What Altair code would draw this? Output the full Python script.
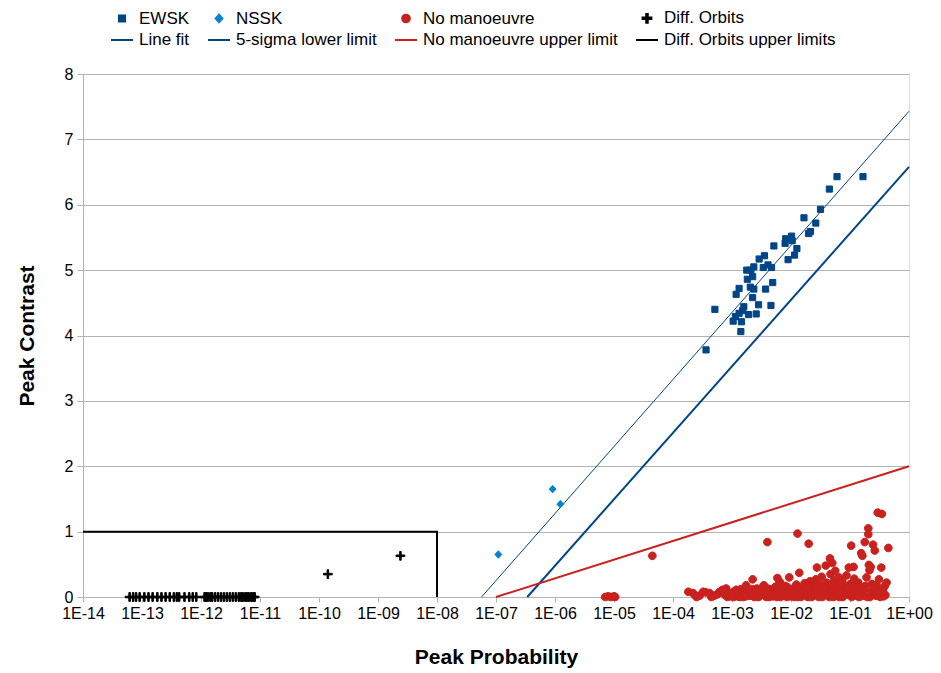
import altair as alt
import pandas as pd

# ---------------- data ----------------
series_names = ["EWSK", "NSSK", "No manoeuvre", "Diff. Orbits",
                "Line fit", "5-sigma lower limit", "No manoeuvre upper limit",
                "Diff. Orbits upper limits"]
series_colors = ["#004586", "#0084d1", "#c9211e", "#000000",
                 "#004586", "#004586", "#c9211e", "#000000"]

x_tick_values = [1e-14, 1e-13, 1e-12, 1e-11, 1e-10, 1e-09, 1e-08, 1e-07,
                 1e-06, 1e-05, 1e-04, 1e-03, 1e-02, 1e-01, 1.0]
y_tick_values = [0, 1, 2, 3, 4, 5, 6, 7, 8]

# log10(peak probability), peak contrast
ewsk_log_p = [-1.22, -0.78, -1.35, -1.50, -1.78, -1.58, -1.67, -1.70, -2.09, -1.99,
              -1.98, -2.10, -2.29, -1.90, -1.94, -2.05, -2.45, -2.54, -2.39, -2.47,
              -2.33, -2.63, -2.75, -2.68, -2.65, -2.74, -2.31, -2.88, -2.69, -2.63,
              -2.43, -2.93, -2.65, -3.29, -2.55, -2.34, -2.80, -2.82, -2.88, -2.94,
              -2.72, -2.59, -2.98, -2.84, -2.85, -3.44]
ewsk_contrast = [6.43, 6.43, 6.24, 5.93, 5.80, 5.72, 5.59, 5.56, 5.48, 5.52,
                 5.45, 5.41, 5.37, 5.33, 5.23, 5.16, 5.22, 5.17, 5.08, 5.04,
                 5.04, 5.05, 5.00, 5.00, 4.90, 4.86, 4.81, 4.72, 4.74, 4.71,
                 4.71, 4.63, 4.58, 4.40, 4.47, 4.46, 4.44, 4.38, 4.34, 4.29,
                 4.32, 4.33, 4.22, 4.21, 4.06, 3.78]

nssk_log_p = [-6.04, -5.91, -6.96]
nssk_contrast = [1.65, 1.42, 0.65]

diff_log_p = [-13.21, -13.15, -13.10, -13.04, -12.96, -12.89, -12.82, -12.74, -12.67,
              -12.60, -12.53, -12.46, -12.41, -12.37, -12.28, -12.20, -12.14, -12.08,
              -11.94, -11.91, -11.88, -11.84, -11.81, -11.76, -11.71, -11.66, -11.61,
              -11.56, -11.51, -11.46, -11.41, -11.36, -11.32, -11.29, -11.25, -11.22,
              -11.19, -11.15, -11.12, -11.09, -9.85, -8.62]
diff_contrast = [0.0] * 40 + [0.35, 0.63]

noman_points = [
    (-5.15, 0.0), (-5.10, 0.01), (-5.05, 0.0), (-5.00, 0.01), (-4.98, 0.0),
    (-4.35, 0.63),
    (-3.74, 0.08), (-3.66, 0.06), (-3.63, 0.03), (-3.55, 0.02), (-3.49, 0.08),
    (-3.44, 0.07), (-3.38, 0.06), (-3.30, 0.02), (-3.21, 0.08), (-3.16, 0.11),
    (-3.10, 0.13), (-3.12, 0.03), (-3.05, 0.05), (-3.02, 0.01),
    (-2.98, 0.04), (-2.95, 0.09), (-2.92, 0.02), (-2.88, 0.06), (-2.85, 0.12),
    (-2.83, 0.03), (-2.80, 0.07), (-2.77, 0.01), (-2.76, 0.18), (-2.73, 0.05),
    (-2.70, 0.10), (-2.68, 0.02), (-2.65, 0.27), (-2.64, 0.07), (-2.61, 0.04),
    (-2.58, 0.13), (-2.56, 0.01), (-2.53, 0.08), (-2.50, 0.05), (-2.48, 0.15),
    (-2.46, 0.18), (-2.44, 0.02), (-2.41, 0.09), (-2.39, 0.04), (-2.36, 0.12),
    (-2.33, 0.06), (-2.31, 0.01), (-2.28, 0.10), (-2.26, 0.16), (-2.23, 0.29),
    (-2.22, 0.03), (-2.19, 0.23), (-2.17, 0.07), (-2.14, 0.12), (-2.12, 0.02),
    (-2.09, 0.05), (-2.06, 0.15), (-2.04, 0.09), (-2.03, 0.30), (-2.01, 0.01),
    (-1.98, 0.06), (-1.96, 0.13), (-1.93, 0.03), (-1.91, 0.19), (-1.88, 0.08),
    (-1.86, 0.37), (-1.85, 0.02), (-1.82, 0.11), (-1.80, 0.05), (-1.77, 0.21),
    (-1.75, 0.14), (-1.73, 0.01), (-1.70, 0.08), (-1.68, 0.24), (-1.66, 0.04),
    (-1.63, 0.17), (-1.61, 0.10), (-1.58, 0.27), (-1.56, 0.45), (-1.55, 0.06),
    (-1.52, 0.20), (-1.50, 0.02), (-1.48, 0.31), (-1.46, 0.12), (-1.44, 0.07),
    (-1.41, 0.48), (-1.40, 0.22), (-1.38, 0.15), (-1.36, 0.03), (-1.34, 0.59),
    (-1.33, 0.35), (-1.30, 0.52), (-1.29, 0.09), (-1.27, 0.26), (-1.25, 0.40),
    (-1.23, 0.05), (-1.21, 0.18), (-1.19, 0.30), (-1.17, 0.12), (-1.15, 0.01),
    (-1.13, 0.24), (-1.11, 0.07), (-1.08, 0.16), (-1.06, 0.33), (-1.04, 0.10),
    (-1.02, 0.45), (-1.01, 0.03),
    (-0.99, 0.20), (-0.96, 0.08), (-0.94, 0.46), (-0.93, 0.28), (-0.90, 0.14),
    (-0.88, 0.02), (-0.86, 0.22), (-0.83, 0.11), (-0.81, 0.67), (-0.79, 0.63),
    (-0.78, 0.05), (-0.75, 0.84), (-0.74, 0.17), (-0.72, 0.30), (-0.69, 1.05),
    (-0.69, 0.96), (-0.68, 0.49), (-0.67, 0.41), (-0.65, 0.46), (-0.63, 0.20),
    (-0.61, 0.80), (-0.60, 0.09), (-0.58, 0.71), (-0.56, 0.02), (-0.55, 0.18),
    (-0.51, 0.27), (-0.53, 1.29), (-0.46, 1.27), (-0.47, 0.45), (-0.44, 0.12),
    (-0.41, 0.17), (-0.40, 0.03), (-0.35, 0.75), (-0.38, 0.22), (-0.82, 0.01),
    (-2.40, 0.84), (-1.89, 0.97), (-1.70, 0.815), (-0.98, 0.785),
    (-2.97, 0.0), (-2.90, 0.01), (-2.81, 0.0), (-2.71, 0.02), (-2.62, 0.0),
    (-2.52, 0.03), (-2.42, 0.0), (-2.34, 0.02), (-2.24, 0.0), (-2.15, 0.04),
    (-2.07, 0.0), (-1.97, 0.02), (-1.89, 0.0), (-1.79, 0.03), (-1.71, 0.0),
    (-1.62, 0.02), (-1.53, 0.0), (-1.43, 0.04), (-1.35, 0.0), (-1.26, 0.02),
    (-1.18, 0.0), (-1.09, 0.03), (-0.97, 0.0), (-0.91, 0.04), (-0.85, 0.0),
    (-0.76, 0.02), (-0.66, 0.0), (-0.59, 0.04), (-0.49, 0.0), (-0.43, 0.01),
    (-3.60, 0.0), (-3.35, 0.0), (-3.25, 0.04), (-3.08, 0.0), (-2.99, 0.07),
    (-2.93, 0.11), (-2.87, 0.0), (-2.79, 0.04), (-2.74, 0.09), (-2.69, 0.06),
    (-2.66, 0.12), (-2.59, 0.08), (-2.55, 0.0), (-2.49, 0.10), (-2.45, 0.06),
    (-2.40, 0.13), (-2.37, 0.0), (-2.32, 0.08), (-2.27, 0.05), (-2.21, 0.11),
    (-2.18, 0.0), (-2.13, 0.08), (-2.10, 0.17), (-2.05, 0.03), (-2.00, 0.10),
    (-1.95, 0.0), (-1.92, 0.07), (-1.87, 0.14), (-1.83, 0.0), (-1.78, 0.09),
    (-1.74, 0.05), (-1.69, 0.13), (-1.65, 0.0), (-1.60, 0.06), (-1.57, 0.11),
    (-1.51, 0.08), (-1.47, 0.0), (-1.42, 0.14), (-1.39, 0.05), (-1.32, 0.19),
    (-1.28, 0.0), (-1.24, 0.12), (-1.20, 0.07), (-1.16, 0.21), (-1.12, 0.0),
    (-1.07, 0.06), (-1.03, 0.14), (-0.95, 0.12), (-0.89, 0.07), (-0.84, 0.16),
    (-0.77, 0.10), (-0.71, 0.0), (-0.64, 0.09), (-0.57, 0.13), (-0.52, 0.06),
    (-0.45, 0.08),
]

line_fit_log_p = [-7.245, 0.0]
line_fit_contrast = [0.0, 7.43]
sigma5_log_p = [-6.47, 0.0]
sigma5_contrast = [0.0, 6.58]
noman_upper_log_p = [-7.0, 0.0]
noman_upper_contrast = [0.0, 2.0]
diff_upper_log_p = [-14.0, -8.0, -8.0]
diff_upper_contrast = [1.0, 1.0, 0.0]

# ---------------- tables ----------------
rows = []
for lp, c in zip(ewsk_log_p, ewsk_contrast):
    rows.append({"p": 10 ** lp, "c": c, "series": "EWSK"})
for lp, c in zip(nssk_log_p, nssk_contrast):
    rows.append({"p": 10 ** lp, "c": c, "series": "NSSK"})
for lp, c in noman_points:
    rows.append({"p": 10 ** lp, "c": c, "series": "No manoeuvre"})
for lp, c in zip(diff_log_p, diff_contrast):
    rows.append({"p": 10 ** lp, "c": c, "series": "Diff. Orbits"})
points_df = pd.DataFrame(rows)


def line_df(lps, cs):
    return pd.DataFrame({"p": [10 ** v for v in lps], "c": cs, "o": list(range(len(cs)))})


# ---------------- styling ----------------
FONT = "Liberation Sans"
GRID = "#b3b3b3"

label_expr = ("'1E' + (round(log(datum.value)/LN10) < 0 ? '-' : '+') + "
              "(abs(round(log(datum.value)/LN10)) < 10 ? '0' : '') + "
              "abs(round(log(datum.value)/LN10))")

x_enc = alt.X("p:Q",
              scale=alt.Scale(type="log", domain=[1e-14, 1.0], nice=False),
              axis=alt.Axis(title="Peak Probability", values=x_tick_values,
                            labelExpr=label_expr, labelOverlap=False, labelFlush=False,
                            grid=False, tickSize=5, tickColor=GRID, domainColor=GRID,
                            labelFontSize=16, labelFont=FONT, labelColor="#000000",
                            labelPadding=3,
                            titleFontSize=21, titleFont=FONT, titleFontWeight="bold",
                            titleColor="#000000", titlePadding=25))
y_enc = alt.Y("c:Q",
              scale=alt.Scale(domain=[0, 8], nice=False, zero=True),
              axis=alt.Axis(title="Peak Contrast", values=y_tick_values,
                            grid=True, gridColor=GRID, tickSize=6, tickColor=GRID,
                            domainColor=GRID, labelFontSize=16, labelFont=FONT,
                            labelColor="#000000", labelPadding=4,
                            titleFontSize=21, titleFont=FONT, titleFontWeight="bold",
                            titleColor="#000000", titlePadding=27))

# symbol paths (coordinates in [-1, 1], scaled with size 484 -> 22 px box)
sq = "M-0.28,-0.28L0.28,-0.28L0.28,0.28L-0.28,0.28Z"
dia = "M0,-0.34L0.31,0L0,0.34L-0.31,0Z"
circ = "M-0.35,0A0.35,0.35 0 1,0 0.35,0A0.35,0.35 0 1,0 -0.35,0Z"
plus = ("M-0.4,-0.07L0.4,-0.07L0.4,0.07L-0.4,0.07Z "
        "M-0.07,-0.4L0.07,-0.4L0.07,0.4L-0.07,0.4Z")
strk = "M-1,0L1,0"
series_shapes = [sq, dia, circ, plus, strk, strk, strk, strk]

legend = alt.Legend(orient="none", legendX=27, legendY=-68, direction="horizontal",
                    columns=4, title=None, labelFont=FONT, labelFontSize=17,
                    labelColor="#000000", labelLimit=320, symbolSize=484,
                    symbolStrokeWidth=2, columnPadding=14, rowPadding=1,
                    labelOffset=5, padding=0)

points = alt.Chart(points_df).mark_point(filled=True, size=484, strokeWidth=1,
                                         opacity=1).encode(
    x=x_enc, y=y_enc,
    fill=alt.Fill("series:N", scale=alt.Scale(domain=series_names, range=series_colors),
                  legend=legend),
    stroke=alt.Stroke("series:N", scale=alt.Scale(domain=series_names, range=series_colors),
                      legend=legend),
    shape=alt.Shape("series:N", scale=alt.Scale(domain=series_names, range=series_shapes),
                    legend=legend),
)


def line_layer(lps, cs, color, width):
    return alt.Chart(line_df(lps, cs)).mark_line(color=color, strokeWidth=width).encode(
        x=x_enc, y=y_enc, order=alt.Order("o:Q"))


lines = [
    line_layer(line_fit_log_p, line_fit_contrast, "#004586", 1),
    line_layer(sigma5_log_p, sigma5_contrast, "#004586", 2),
    line_layer(noman_upper_log_p, noman_upper_contrast, "#c9211e", 2),
    line_layer(diff_upper_log_p, diff_upper_contrast, "#000000", 2),
]

chart = alt.layer(*lines, points).properties(
    width=826, height=523,
    autosize=alt.AutoSizeParams(type="none"),
    padding={"left": 75, "top": 66, "right": 24, "bottom": 76},
).configure_view(stroke=GRID, strokeWidth=1).configure(font=FONT, background="white")

chart.save("out.html", embed_options={"renderer": "svg", "actions": False})
